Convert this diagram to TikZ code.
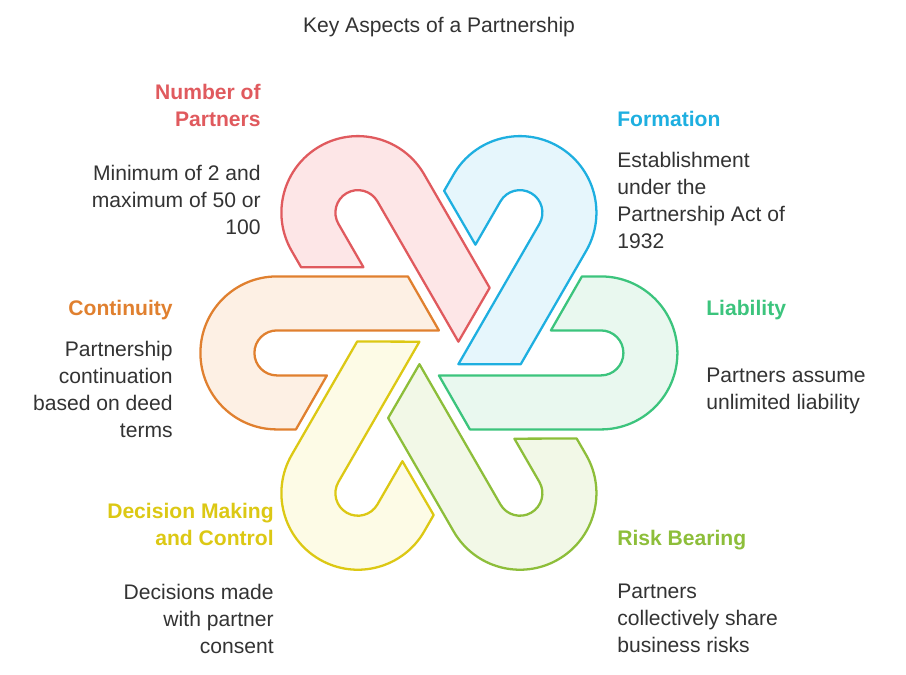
\documentclass[tikz,border=0pt]{standalone}
\usepackage{fontspec}
\setmainfont{Liberation Sans}
\usetikzlibrary{positioning}
\definecolor{cRed}{HTML}{E05A5E}\definecolor{fRed}{HTML}{FDE6E7}
\definecolor{cBlue}{HTML}{1EAFE0}\definecolor{fBlue}{HTML}{E6F6FC}
\definecolor{cGreen}{HTML}{3CC47D}\definecolor{fGreen}{HTML}{E9F8EF}
\definecolor{cLime}{HTML}{8DBE3A}\definecolor{fLime}{HTML}{F2F8E7}
\definecolor{cYellow}{HTML}{DCC814}\definecolor{fYellow}{HTML}{FDFBE6}
\definecolor{cOrange}{HTML}{E0802F}\definecolor{fOrange}{HTML}{FDF0E4}
\tikzset{
head/.style={font=\fontsize{12}{15.3}\selectfont\bfseries, inner sep=0pt},
body/.style={font=\fontsize{12}{15.3}\selectfont, inner sep=0pt, text=black!80},
hook/.style={line width=1.3pt, line join=round}
}
\newcommand{\hookpath}{(-162,76.5) -- (-31,76.5) -- (0,22.5) -- (-162,22.5)
  arc[start angle=90,end angle=270,radius=22.5] -- (-112,-22.5) -- (-143,-76.5)
  -- (-162,-76.5) arc[start angle=270,end angle=90,radius=76.5] -- cycle}
\begin{document}
\begin{tikzpicture}[x=0.02cm,y=-0.02cm]
  \useasboundingbox (0,0) rectangle (906,675);
  % hooks
  \foreach \rot/\col in {0/Orange,-60/Red,-120/Blue,-180/Green,-240/Lime,-300/Yellow}{
    \begin{scope}[shift={(8.78cm,-7.06cm)}, x=0.02cm, y=0.02cm, rotate=\rot]
      \draw[hook, draw=c\col, fill=f\col] \hookpath;
    \end{scope}
  }
  % texts
  \node[body, anchor=center] (title) at (439,27) {Key Aspects of a Partnership};
  \node[head, text=cRed, anchor=north east, align=right] (numH) at (261,84) {Number of\\Partners};
  \node[body, anchor=north east, align=right] (numB) at (261,165) {Minimum of 2 and\\maximum of 50 or\\100};
  \node[head, text=cBlue, anchor=north west, align=left] (forH) at (617,111) {Formation};
  \node[body, anchor=north west, align=left] (forB) at (617,152) {Establishment\\under the\\Partnership Act of\\1932};
  \node[head, text=cGreen, anchor=north west, align=left] (liaH) at (706,300) {Liability};
  \node[body, anchor=north west, align=left] (liaB) at (706,368) {Partners assume\\unlimited liability};
  \node[head, text=cOrange, anchor=north east, align=right] (conH) at (173,300) {Continuity};
  \node[body, anchor=north east, align=right] (conB) at (173,341) {Partnership\\continuation\\based on deed\\terms};
  \node[head, text=cYellow, anchor=north east, align=right] (decH) at (274,503) {Decision Making\\and Control};
  \node[body, anchor=north east, align=right] (decB) at (274,584) {Decisions made\\with partner\\consent};
  \node[head, text=cLime, anchor=north west, align=left] (riskH) at (617,530) {Risk Bearing};
  \node[body, anchor=north west, align=left] (riskB) at (617,584) {Partners\\collectively share\\business risks};
\end{tikzpicture}
\end{document}
